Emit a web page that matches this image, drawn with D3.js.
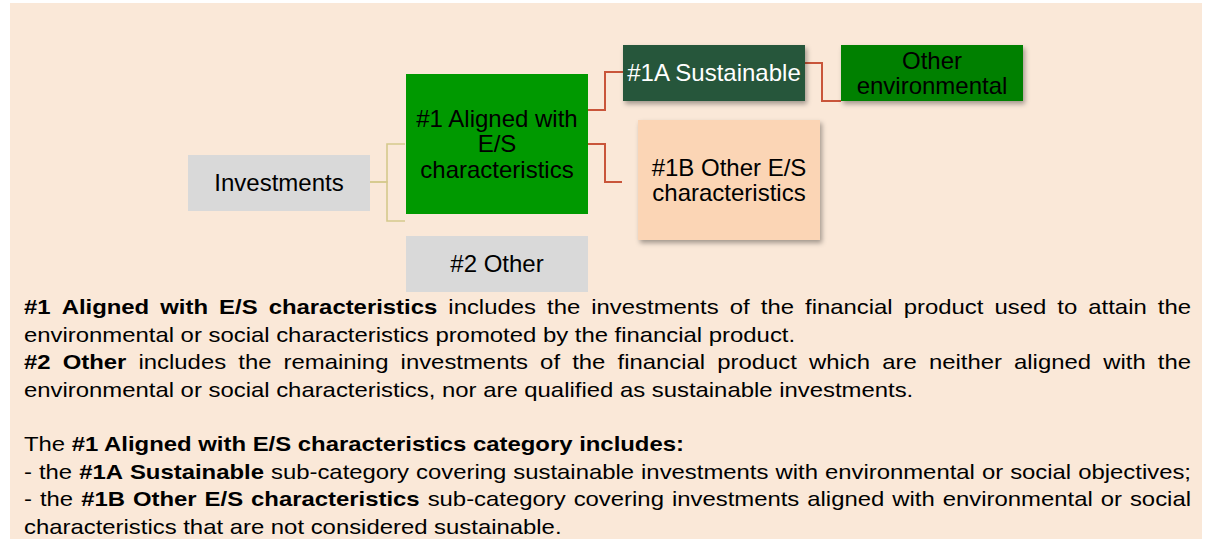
<!DOCTYPE html>
<html>
<head>
<meta charset="utf-8">
<script src="https://cdn.jsdelivr.net/npm/d3@7"></script>
<style>
  html, body { margin: 0; padding: 0; background: #ffffff; }
  svg { display: block; font-family: "Liberation Sans", Arial, sans-serif; }
</style>
</head>
<body>
<div id="chart"></div>
<script>
// diagram nodes: id, label lines
const nodeIds = ['inv', 'al', 'oth', 'sus', 'env', 'es'];
const nodeLabels = [
    ['Investments'],
    ['#1 Aligned with', 'E/S', 'characteristics'],
    ['#2 Other'],
    ['#1A Sustainable'],
    ['Other', 'environmental'],
    ['#1B Other E/S', 'characteristics']
];

// parent -> child links
const links = [
    ['inv', 'al'],
    ['inv', 'oth'],
    ['al', 'sus'],
    ['al', 'es'],
    ['sus', 'env']
];

// explanation text, one entry per line: [text, bold] runs, justify flag
const textLines = [
    { runs: [['#1 Aligned with E/S characteristics', true], [' includes the investments of the financial product used to attain the', false]], justify: true },
    { runs: [['environmental or social characteristics promoted by the financial product.', false]], justify: false },
    { runs: [['#2 Other', true], [' includes the remaining investments of the financial product which are neither aligned with the', false]], justify: true },
    { runs: [['environmental or social characteristics, nor are qualified as sustainable investments.', false]], justify: false },
    { runs: [], justify: false },
    { runs: [['The ', false], ['#1 Aligned with E/S characteristics category includes:', true]], justify: false },
    { runs: [['- the ', false], ['#1A Sustainable', true], [' sub-category covering sustainable investments with environmental or social objectives;', false]], justify: true },
    { runs: [['- the ', false], ['#1B Other E/S characteristics', true], [' sub-category covering investments aligned with environmental or social', false]], justify: true },
    { runs: [['characteristics that are not considered sustainable.', false]], justify: false }
];

const width = 1205;
const height = 539;

// box geometry and look (layout only)
const layout = {
    inv: { x: 188, y: 155, w: 182, h: 56, fill: '#d9d9d9', color: '#000', shadow: false },
    al:  { x: 406, y: 74,  w: 182, h: 140, fill: '#009900', color: '#000', shadow: false, lh: 25.5 },
    oth: { x: 406, y: 236, w: 182, h: 56, fill: '#d9d9d9', color: '#000', shadow: false },
    sus: { x: 623, y: 45,  w: 182, h: 56, fill: '#26563b', color: '#fff', shadow: true },
    env: { x: 841, y: 45,  w: 182, h: 56, fill: '#008000', color: '#000', shadow: true },
    es:  { x: 638, y: 120, w: 182, h: 120, fill: '#fbd5b5', color: '#000', shadow: true }
};

// connector anchor points
const linkLayout = {
    'inv-al':  { y0: 182, ex: 387, y1: 144, x1: 405, color: '#d5c98c', w: 1.6 },
    'inv-oth': { y0: 182, ex: 387, y1: 221, x1: 405, color: '#d5c98c', w: 1.6 },
    'al-sus':  { y0: 110, ex: 605, y1: 72,  x1: 623, color: '#c9553a', w: 2 },
    'al-es':   { y0: 144, ex: 605, y1: 182, x1: 622, color: '#c9553a', w: 2 },
    'sus-env': { y0: 63,  ex: 822, y1: 101, x1: 841, color: '#c9553a', w: 2 }
};

const svg = d3.select('#chart')
    .append('svg')
    .attr('width', width)
    .attr('height', height);

// shadow filter
const defs = svg.append('defs');
const f = defs.append('filter')
    .attr('id', 'shadow')
    .attr('x', '-10%').attr('y', '-10%')
    .attr('width', '130%').attr('height', '140%');
f.append('feDropShadow')
    .attr('dx', 2).attr('dy', 3)
    .attr('stdDeviation', 2.5)
    .attr('flood-color', '#000')
    .attr('flood-opacity', 0.35);

// panel background
svg.append('rect')
    .attr('x', 10).attr('y', 3)
    .attr('width', 1192).attr('height', height)
    .attr('fill', '#fae8d8');

// connectors
const linkG = svg.append('g').attr('class', 'links');
links.forEach(([a, b]) => {
    const l = linkLayout[a + '-' + b];
    const x0 = layout[a].x + layout[a].w;
    const p = d3.path();
    p.moveTo(x0, l.y0);
    p.lineTo(l.ex, l.y0);
    p.lineTo(l.ex, l.y1);
    p.lineTo(l.x1, l.y1);
    linkG.append('path')
        .attr('d', p.toString())
        .attr('fill', 'none')
        .attr('stroke', l.color)
        .attr('stroke-width', l.w);
});

// boxes
const nodes = nodeIds.map((id, i) => ({ id, lines: nodeLabels[i], ...layout[id] }));
const boxFont = 24;

const node = svg.append('g').attr('class', 'nodes')
    .selectAll('g')
    .data(nodes)
    .enter()
    .append('g');

node.append('rect')
    .attr('x', d => d.x).attr('y', d => d.y)
    .attr('width', d => d.w).attr('height', d => d.h)
    .attr('fill', d => d.fill)
    .attr('filter', d => d.shadow ? 'url(#shadow)' : null);

node.each(function (d) {
    const g = d3.select(this);
    const n = d.lines.length;
    const cy = d.y + d.h / 2;
    const lh = d.lh || 24.5;
    d.lines.forEach((line, i) => {
        const baseline = cy + (i - (n - 1) / 2) * lh + boxFont * 0.35;
        g.append('text')
            .attr('x', d.x + d.w / 2)
            .attr('y', baseline)
            .attr('text-anchor', 'middle')
            .attr('font-size', boxFont)
            .attr('fill', d.color)
            .text(line);
    });
});

// explanation paragraph (the source text is drawn a bit wide, so stretch it)
const left = 24;
const right = 1191;
const bodyFont = 20;
const stretch = 1.195;
const firstBaseline = 314.5;
const lineStep = 27.4;
const innerW = (right - left) / stretch;

const textG = svg.append('g')
    .attr('class', 'para')
    .attr('transform', `translate(${left},0) scale(${stretch},1)`);

textLines.forEach((line, i) => {
    const y = firstBaseline + i * lineStep;
    if (!line.runs.length) return;

    if (!line.justify) {
        const t = textG.append('text')
            .attr('x', 0).attr('y', y)
            .attr('font-size', bodyFont)
            .attr('fill', '#000')
            .attr('xml:space', 'preserve')
            .style('white-space', 'pre');
        line.runs.forEach(([s, b]) => {
            t.append('tspan')
                .attr('font-weight', b ? 'bold' : 'normal')
                .text(s);
        });
        return;
    }

    // split runs into words, keep bold flag, then spread to full width
    const words = [];
    line.runs.forEach(([s, b]) => {
        s.split(' ').forEach(w => {
            if (w === '') return;
            words.push({ w, b });
        });
    });
    const els = words.map(d => textG.append('text')
        .attr('y', y)
        .attr('font-size', bodyFont)
        .attr('font-weight', d.b ? 'bold' : 'normal')
        .attr('fill', '#000')
        .text(d.w));
    const widths = els.map(e => e.node().getComputedTextLength());
    const gap = (innerW - d3.sum(widths)) / (words.length - 1);
    let x = 0;
    els.forEach((e, k) => {
        e.attr('x', x);
        x += widths[k] + gap;
    });
});
</script>
</body>
</html>
